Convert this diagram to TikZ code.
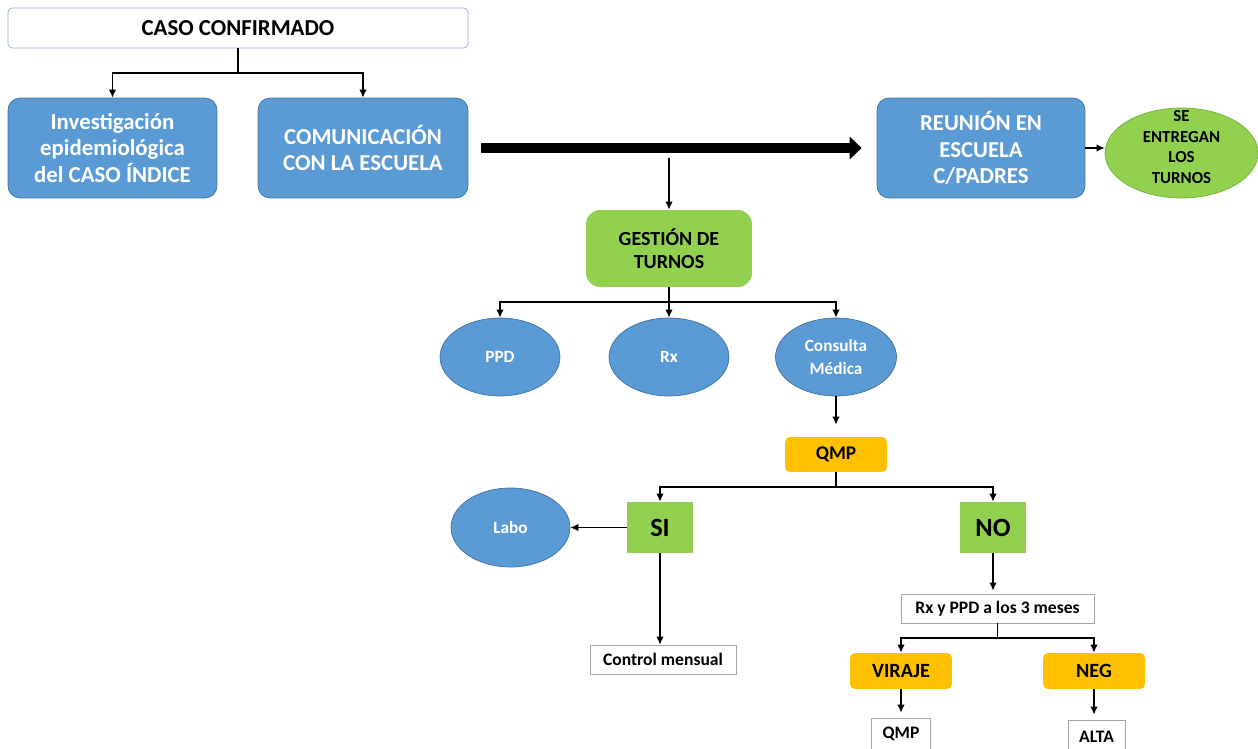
\documentclass[tikz,border=0pt]{standalone}
\usepackage{fontspec}
\setmainfont{Carlito}
\usetikzlibrary{arrows.meta,shapes.geometric}

\definecolor{boxblue}{RGB}{91,155,213}
\definecolor{boxblueline}{RGB}{65,113,156}
\definecolor{boxgreen}{RGB}{146,208,80}
\definecolor{boxgreenline}{RGB}{118,176,58}
\definecolor{boxorange}{RGB}{255,192,0}
\definecolor{headline}{RGB}{143,170,210}
\definecolor{greyline}{RGB}{166,166,166}

\tikzset{
	bluebox/.style={draw=boxblueline, fill=boxblue, rounded corners=0.24cm, text=white, align=center,
		font=\fontsize{13}{15.2}\selectfont\bfseries, minimum width=4.18cm, minimum height=2cm},
	blueoval/.style={ellipse, draw=boxblueline, fill=boxblue, text=white, align=center, inner sep=0pt,
		font=\fontsize{9.8}{13}\selectfont\bfseries, minimum width=2.4cm, minimum height=1.56cm},
	greenbox/.style={fill=boxgreen, align=center, font=\bfseries},
	orangebox/.style={fill=boxorange, rounded corners=0.1cm, font=\fontsize{11.5}{13}\selectfont\bfseries,
		minimum width=2.04cm, minimum height=0.72cm},
	whitebox/.style={draw=greyline, fill=white, font=\fontsize{10}{12}\selectfont\bfseries, minimum height=0.58cm},
	arr/.style={-{Latex[length=0.16cm,width=0.15cm]}, line width=0.8pt},
	link/.style={line width=0.8pt}
}

\begin{document}
\begin{tikzpicture}[x=0.02cm, y=-0.02cm]
	\useasboundingbox (0,0) rectangle (1258,749);
	\clip (0,0) rectangle (1258,749);

	% top row
	\node[draw=headline, fill=white, rounded corners=0.08cm, minimum width=9.2cm, minimum height=0.8cm,
		font=\fontsize{13}{15}\selectfont\bfseries] (caso) at (238,28) {CASO CONFIRMADO};
	\node[bluebox] (inv) at (112.5,148) {Investigación\\epidemiológica\\del CASO ÍNDICE};
	\node[bluebox, minimum width=4.2cm] (com) at (363,148) {COMUNICACIÓN\\CON LA ESCUELA};
	\node[bluebox, minimum width=4.16cm] (reu) at (981,148) {REUNIÓN EN\\ESCUELA\\C/PADRES};
	\node[ellipse, draw=boxgreenline, fill=boxgreen, minimum width=3.06cm, minimum height=1.8cm, inner sep=0pt,
		font=\fontsize{9.6}{11.7}\selectfont\bfseries] (ent) at (1181.5,153)
		{\smash{\begin{tabular}{@{}c@{}}SE\\ENTREGAN\\LOS\\TURNOS\end{tabular}}};

	\coordinate (c1) at (238,73);
	\draw[link] (caso) -- (c1);
	\draw[arr] (c1) -| (inv);
	\draw[arr] (c1) -| (com);
	\draw[line width=0.21cm, -{Triangle[length=0.24cm,width=0.44cm]}, shorten <=0.26cm, shorten >=0.3cm]
		(com.east) -- (reu.west);
	\draw[arr] (reu.east) -- (reu.east -| ent.west);

	% turnos
	\node[greenbox, rounded corners=0.28cm, minimum width=3.32cm, minimum height=1.54cm,
		font=\fontsize{11.4}{13}\selectfont\bfseries] (ges) at (669,248.5) {GESTIÓN DE\\TURNOS};
	\coordinate (g0) at (669,158);
	\draw[arr] (g0) -- (ges);

	\node[blueoval] (ppd) at (500,357) {PPD};
	\node[blueoval] (rx) at (669,357) {Rx};
	\node[blueoval, minimum width=2.42cm] (cons) at (836,357) {Consulta\\Médica};

	\coordinate (g1) at (669,302);
	\draw[link] (ges) -- (g1);
	\draw[arr] (g1) -| (ppd);
	\draw[arr] (g1) -- (rx);
	\draw[arr] (g1) -| (cons);

	% QMP
	\node[orangebox, font=\fontsize{11}{13}\selectfont\bfseries, minimum height=0.7cm] (qmp) at (836,454.5) {QMP};
	\draw[arr, shorten >=0.24cm] (cons) -- (qmp);

	\node[greenbox, minimum width=1.32cm, minimum height=1.02cm, font=\fontsize{15}{17}\selectfont\bfseries]
		(si) at (660,527.5) {SI};
	\node[greenbox, minimum width=1.32cm, minimum height=1.02cm, font=\fontsize{15}{17}\selectfont\bfseries]
		(no) at (993,527.5) {NO};
	\coordinate (q1) at (836,487);
	\draw[link] (qmp) -- (q1);
	\draw[arr] (q1) -| (si);
	\draw[arr] (q1) -| (no);

	\node[blueoval, minimum width=2.38cm, minimum height=1.58cm] (labo) at (510.5,527.5) {Labo};
	\draw[arr] (si) -- (labo);

	\node[whitebox, minimum width=2.92cm] (ctrl) at (663,659.5) {Control mensual};
	\draw[arr] (si.south) -- (si.south |- ctrl.north);

	% rama NO
	\node[whitebox, minimum width=3.86cm] (rxppd) at (997.5,608.5) {Rx y PPD a los 3 meses};
	\draw[arr, shorten >=0.06cm] (no.south) -- (no.south |- rxppd.north);

	\node[orangebox] (vir) at (901,671) {VIRAJE};
	\node[orangebox] (neg) at (1094,671) {NEG};
	\coordinate (r1) at (997.5,638);
	\draw[link] (rxppd) -- (r1);
	\draw[arr] (r1) -| (vir);
	\draw[arr] (r1) -| (neg);

	\node[whitebox, minimum width=1.18cm, minimum height=0.64cm] (qmp2) at (901,734) {QMP};
	\node[whitebox, minimum width=1.14cm, minimum height=0.68cm] (alta) at (1096.5,737) {ALTA};
	\draw[arr, shorten >=0.1cm] (vir) -- (qmp2);
	\draw[arr, shorten >=0.1cm] (neg.south) -- (neg.south |- alta.north);
\end{tikzpicture}
\end{document}
